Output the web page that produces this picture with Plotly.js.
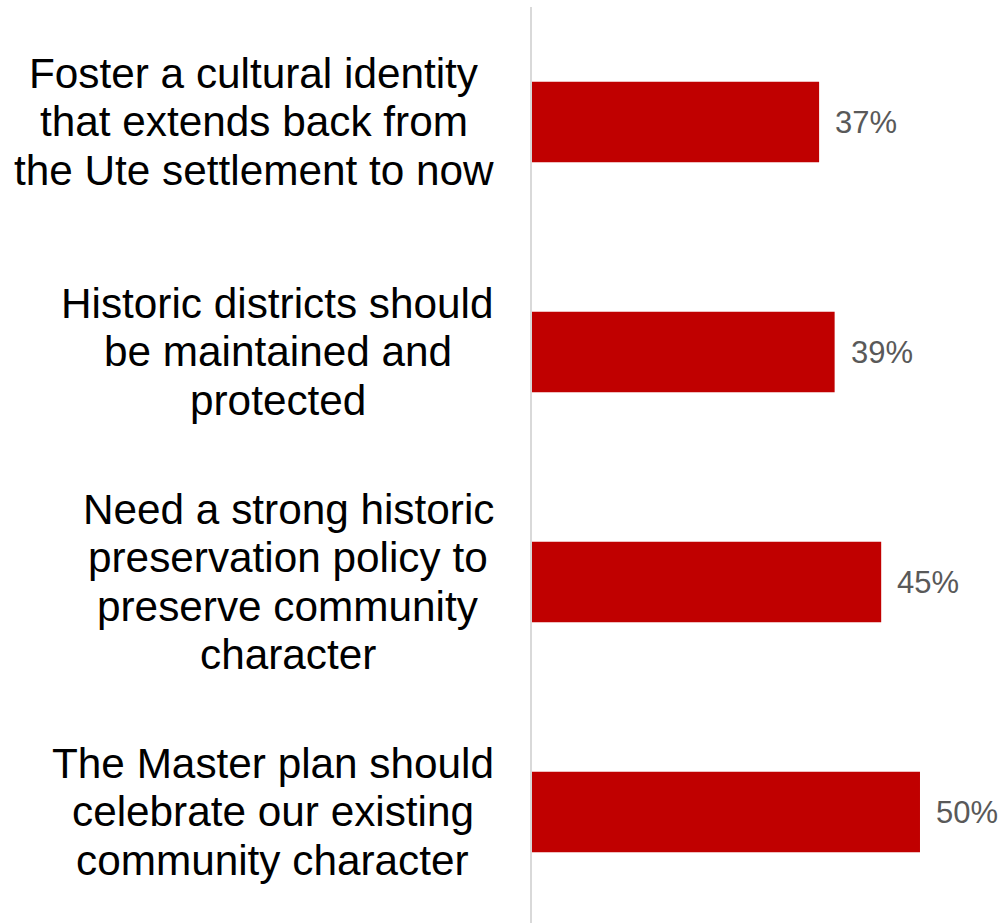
<!DOCTYPE html>
<html>
<head>
<meta charset="utf-8">
<script src="https://cdn.plot.ly/plotly-3.0.1.min.js"></script>
<style>html,body{margin:0;padding:0;background:#fff;}#chart{width:1001px;height:923px;}</style>
</head>
<body>
<div id="chart"></div>
<script>
const categories = [
  "Foster a cultural identity<br>that extends back from<br>the Ute settlement to now",
  "Historic districts should<br>be maintained and<br>protected",
  "Need a strong historic<br>preservation policy to<br>preserve community<br>character",
  "The Master plan should<br>celebrate our existing<br>community character"
];
const values = [37, 39, 45, 50];
const valueLabels = values.map(v => v + "%");

const FONT = "Liberation Sans, Arial, sans-serif";
const catFontSize = 42.3;
const lineGap = 48.3;
const rightGap = 38;

const canvas = document.createElement("canvas");
const ctx = canvas.getContext("2d");
ctx.font = catFontSize + "px 'Liberation Sans'";

const annotations = [];
categories.forEach((cat, i) => {
  const lines = cat.split("<br>");
  const maxW = Math.max(...lines.map(l => ctx.measureText(l).width));
  const n = lines.length;
  lines.forEach((line, k) => {
    annotations.push({
      xref: "paper", yref: "y", x: 0, y: cat,
      text: line, showarrow: false,
      xanchor: "center", yanchor: "middle",
      xshift: -(rightGap + maxW / 2),
      yshift: -(k - (n - 1) / 2) * lineGap,
      font: {family: FONT, size: catFontSize, color: "#000000"}
    });
  });
});
values.forEach((v, i) => {
  annotations.push({
    xref: "x", yref: "y", x: v, y: categories[i],
    text: valueLabels[i], showarrow: false,
    xanchor: "left", yanchor: "middle", xshift: 14, yshift: -1,
    font: {family: FONT, size: 31, color: "#595959"}
  });
});

const trace = {
  type: "bar", orientation: "h",
  x: values, y: categories,
  marker: {color: "#C00000"},
  hoverinfo: "none"
};

const layout = {
  width: 1001, height: 923,
  margin: {l: 532, r: 0, t: 7, b: 0},
  paper_bgcolor: "#ffffff", plot_bgcolor: "#ffffff",
  showlegend: false,
  bargap: 0.65,
  xaxis: {range: [0, 60.44], showgrid: false, zeroline: false, showticklabels: false, showline: false, ticks: ""},
  yaxis: {type: "category", range: [3.483, -0.5], showgrid: false, zeroline: false,
          showticklabels: false, ticks: "", showline: true, linecolor: "#d9d9d9", linewidth: 2},
  annotations: annotations
};

Plotly.newPlot("chart", [trace], layout, {displayModeBar: false, staticPlot: true});
</script>
</body>
</html>
